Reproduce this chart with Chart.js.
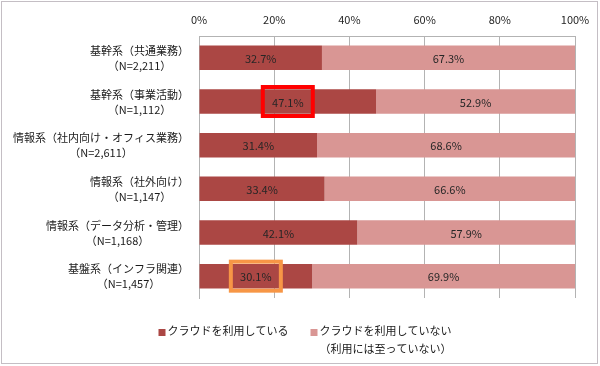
<!DOCTYPE html>
<html>
<head>
<meta charset="utf-8">
<script src="https://cdn.jsdelivr.net/npm/chart.js@4"></script>
<style>
html,body{margin:0;padding:0;background:#fff;}
#wrap{position:relative;width:600px;height:366px;}
canvas{display:block;}
</style>
</head>
<body>
<div id="wrap"><canvas id="c" width="600" height="366"></canvas></div>
<script>
const categories = ['基幹系（共通業務）', '基幹系（事業活動）', '情報系（社内向け・オフィス業務）', '情報系（社外向け）', '情報系（データ分析・管理）', '基盤系（インフラ関連）'];
const sampleSizes = ['（N=2,211）', '（N=1,112）', '（N=2,611）', '（N=1,147）', '（N=1,168）', '（N=1,457）'];
const usingCloud = [32.7, 47.1, 31.4, 33.4, 42.1, 30.1];
const notUsingCloud = [67.3, 52.9, 68.6, 66.6, 57.9, 69.9];
const xTickValues = [0, 20, 40, 60, 80, 100];
const seriesNames = [['クラウドを利用している'], ['クラウドを利用していない', '（利用には至っていない）']];
const highlights = [{index: 1, dataset: 0, color: '#FF0000'}, {index: 5, dataset: 0, color: '#F79646'}];

const FONT = '"Noto Sans CJK JP", "Noto Sans", sans-serif';
const DARK = '#AB4744';
const LIGHT = '#D99694';

const overlay = {
  id: 'overlay',
  beforeDraw(chart) {
    const ctx = chart.ctx;
    ctx.save();
    ctx.fillStyle = '#fff';
    ctx.fillRect(0, 0, chart.width, chart.height);
    ctx.strokeStyle = '#C4BEC4';
    ctx.lineWidth = 1;
    ctx.strokeRect(1.5, 1.5, chart.width - 4, chart.height - 4);
    ctx.restore();
  },
  afterDatasetsDraw(chart) {
    const ctx = chart.ctx;
    ctx.save();
    // value labels
    ctx.font = '11px ' + FONT;
    ctx.fillStyle = '#262626';
    ctx.textAlign = 'center';
    ctx.textBaseline = 'middle';
    chart.data.datasets.forEach((ds, di) => {
      const meta = chart.getDatasetMeta(di);
      meta.data.forEach((el, i) => {
        const cx = (el.x + el.base) / 2;
        ctx.fillText(ds.data[i].toFixed(1) + '%', cx, el.y + 1);
      });
    });
    // highlight boxes
    highlights.forEach(h => {
      const el = chart.getDatasetMeta(h.dataset).data[h.index];
      const cx = (el.x + el.base) / 2;
      ctx.strokeStyle = h.color;
      ctx.lineWidth = 4;
      ctx.strokeRect(cx - 25, el.y - 14.5, 50, 29);
    });
    // category labels
    const yScale = chart.scales.y;
    const right = chart.chartArea.left - 10;
    ctx.font = '11px ' + FONT;
    ctx.fillStyle = '#1a1a1a';
    categories.forEach((name, i) => {
      const cy = yScale.getPixelForValue(i);
      const w1 = ctx.measureText(name).width;
      const w2 = ctx.measureText(sampleSizes[i]).width;
      const bw = Math.max(w1, w2);
      const mid = right - bw / 2;
      ctx.fillText(name, mid, cy - 7);
      ctx.fillText(sampleSizes[i], mid, cy + 8);
    });
    // legend
    const lx = [];
    ctx.font = '11px ' + FONT;
    const widths = seriesNames.map(lines => Math.max(...lines.map(t => ctx.measureText(t).width)));
    const total = widths.reduce((a, b) => a + b, 0) + seriesNames.length * 9 + (seriesNames.length - 1) * 22;
    let x = 305 - total / 2;
    const ly = 331;
    ctx.textAlign = 'left';
    chart.data.datasets.forEach((ds, di) => {
      ctx.fillStyle = ds.backgroundColor;
      ctx.fillRect(x, ly - 2, 7, 7);
      ctx.fillStyle = '#1a1a1a';
      seriesNames[di].forEach((t, li) => ctx.fillText(t, x + 9, ly + li * 18));
      x += 9 + widths[di] + 22;
    });
    ctx.restore();
  }
};

new Chart(document.getElementById('c'), {
  type: 'bar',
  data: {
    labels: categories,
    datasets: [
      {label: seriesNames[0].join(''), data: usingCloud, backgroundColor: DARK, borderWidth: 0},
      {label: seriesNames[1].join(''), data: notUsingCloud, backgroundColor: LIGHT, borderWidth: 0}
    ]
  },
  options: {
    indexAxis: 'y',
    responsive: false,
    animation: false,
    devicePixelRatio: 1,
    layout: {padding: {left: 0, top: 0, right: 25, bottom: 68}},
    datasets: {bar: {categoryPercentage: 1, barPercentage: 0.56}},
    plugins: {legend: {display: false}, tooltip: {enabled: false}},
    scales: {
      x: {
        position: 'top',
        stacked: true,
        min: 0,
        max: 100,
        afterBuildTicks: s => { s.ticks = xTickValues.map(v => ({value: v})); },
        afterFit: s => { s.height = 36; },
        ticks: {
          callback: v => v + '%',
          font: {family: FONT, size: 11},
          color: '#262626',
          padding: 10
        },
        grid: {color: '#B3B3B3', drawTicks: false, lineWidth: 1},
        border: {display: true, color: '#B3B3B3'}
      },
      y: {
        stacked: true,
        afterFit: s => { s.width = 199; },
        ticks: {display: false},
        grid: {display: false},
        border: {display: true, color: '#B3B3B3'}
      }
    }
  },
  plugins: [overlay]
});
</script>
</body>
</html>
